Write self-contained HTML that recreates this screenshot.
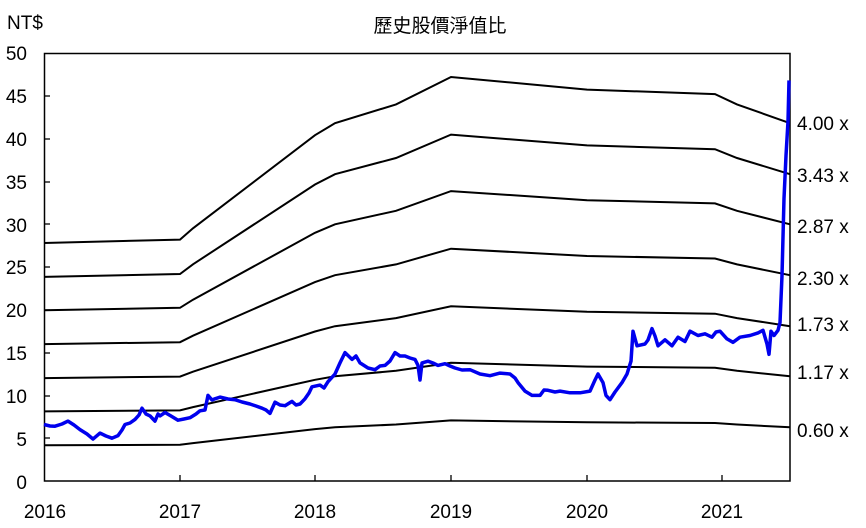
<!DOCTYPE html>
<html><head><meta charset="utf-8"><style>body{margin:0;background:#fff}svg{display:block}text{font-family:"Liberation Sans","Noto Sans CJK TC",sans-serif;font-size:19px;fill:#000}</style></head><body>
<svg width="866" height="528" viewBox="0 0 866 528">
<text x="440" y="32" text-anchor="middle" font-size="21">歷史股價淨值比</text>
<text x="7" y="29">NT$</text>
<g text-anchor="end">
<text x="27" y="60">50</text><text x="27" y="103">45</text><text x="27" y="146">40</text><text x="27" y="189">35</text><text x="27" y="232">30</text><text x="27" y="274">25</text><text x="27" y="317">20</text><text x="27" y="360">15</text><text x="27" y="403">10</text><text x="27" y="446">5</text><text x="27" y="489">0</text>
</g>
<g text-anchor="middle">
<text x="45" y="518">2016</text><text x="180" y="518">2017</text><text x="315" y="518">2018</text><text x="451" y="518">2019</text><text x="587" y="518">2020</text><text x="722" y="518">2021</text>
</g>
<g>
<text x="797" y="130">4.00 x</text><text x="797" y="182">3.43 x</text><text x="797" y="233">2.87 x</text><text x="797" y="285">2.30 x</text><text x="797" y="331">1.73 x</text><text x="797" y="379">1.17 x</text><text x="797" y="437">0.60 x</text>
</g>
<rect x="44.5" y="53.5" width="745.5" height="427.5" fill="none" stroke="#000" stroke-width="1.5"/>
<g stroke="#000" stroke-width="1.3">
<line x1="44" y1="96" x2="50" y2="96"/><line x1="44" y1="139" x2="50" y2="139"/><line x1="44" y1="182" x2="50" y2="182"/><line x1="44" y1="224" x2="50" y2="224"/><line x1="44" y1="267" x2="50" y2="267"/><line x1="44" y1="310" x2="50" y2="310"/><line x1="44" y1="353" x2="50" y2="353"/><line x1="44" y1="396" x2="50" y2="396"/><line x1="44" y1="438" x2="50" y2="438"/>
<line x1="180" y1="475" x2="180" y2="481"/><line x1="315" y1="475" x2="315" y2="481"/><line x1="451" y1="475" x2="451" y2="481"/><line x1="587" y1="475" x2="587" y2="481"/><line x1="722" y1="475" x2="722" y2="481"/>
</g>
<g fill="none" stroke="#000" stroke-width="2">
<polyline points="44,243 180,239.6 193,228.3 315,135.2 335,123.2 396,104.4 451,77 587,89.6 715,94.1 737,104.4 790,123.2"/>
<polyline points="44,276.9 180,274 193,264.3 315,184.5 335,174.2 396,158 451,134.6 587,145.4 715,149.2 737,158 790,174.2"/>
<polyline points="44,310.2 180,307.8 193,299.7 315,232.8 335,224.3 396,210.8 451,191.1 587,200.2 715,203.4 737,210.8 790,224.3"/>
<polyline points="44,344.1 180,342.2 193,335.7 315,282.1 335,275.2 396,264.4 451,248.7 587,256 715,258.5 737,264.4 790,275.2"/>
<polyline points="44,378.1 180,376.6 193,371.7 315,331.5 335,326.2 396,318.1 451,306.3 587,311.8 715,313.7 737,318.1 790,326.2"/>
<polyline points="44,411.4 180,410.4 193,407.1 315,379.8 335,376.3 396,370.8 451,362.8 587,366.6 715,367.8 737,370.8 790,376.3"/>
<polyline points="44,445.3 180,444.8 193,443.1 315,429.1 335,427.3 396,424.5 451,420.4 587,422.3 715,423 737,424.5 790,427.3"/>
</g>
<polyline fill="none" stroke="#0000ee" stroke-width="3.5" stroke-linejoin="round" points="44,424.5 50,426 55,426.2 62,424 68,421.1 74,425 80,429.6 87,434 93,439.1 100,433.1 106,436 112,438.2 118,435.6 122,430 125,424.5 130,423 135,419.4 139,415 142,408.2 146,414 150,415.9 155,421.1 158,414 160,415.9 165,412.5 171,416 178,420.2 184,419 190,417.7 196,414 200,410.8 205,410 208,395.4 212,400 215,398.8 220,397.1 228,399 235,399.7 242,402 250,404 256,406 262,408.2 266,410 270,413.4 275,402.2 280,405 285,405.7 292,401.4 296,405 300,404 305,398.8 309,393 312,386.8 320,385.1 324,388 328,381.7 335,374 340,362.9 345,352.6 352,359.4 356,356 360,362.9 368,368 375,369.7 380,366 385,365.4 390,361 395,352.6 400,356 405,356 410,358 415,359.4 418,365.4 420,380 422,362.9 428,361.2 433,363 438,365.4 445,363.7 450,366 455,368 462,370 470,369.7 480,374 490,375.7 500,373.1 510,374 515,378 518,382.6 525,391.1 532,395.4 540,395.4 544,390 548,390.3 555,392 560,391.1 570,392.8 580,392.8 590,391.1 595,380 598,374 603,382.6 606,395.4 610,399.7 615,392 622,382.6 627,374 631,361.2 633,331.2 637,345.8 645,344 648,340 652,328.6 655,336 658,345.8 665,339.8 672,345.8 678,337.2 685,341.5 690,331.2 698,335.5 705,333.8 712,337.2 716,332 720,331.2 727,338.9 733,342.3 740,337.2 750,335.5 758,332.9 763,330.3 767,344 769,354.3 771,331.2 774,335.5 778,330.3 780,322.6 782,275.6 784,198.5 786,155.7 788,121.5 789,80.4"/>
</svg>
</body></html>
